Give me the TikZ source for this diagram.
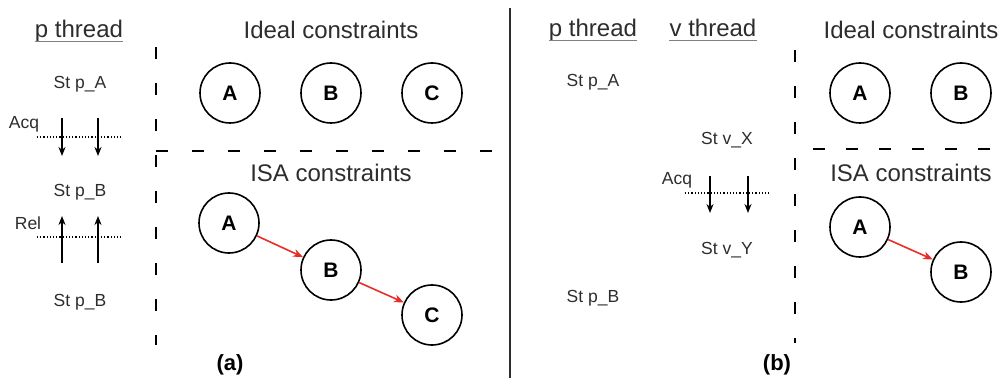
\documentclass[tikz,border=0pt]{standalone}
\usepackage{fontspec}
\setmainfont{Liberation Sans}
\usetikzlibrary{arrows.meta}
\definecolor{isared}{RGB}{230,45,40}
\definecolor{txtgray}{RGB}{45,45,45}
\begin{document}
\begin{tikzpicture}[x=1pt,y=-1pt,
  heading/.style={font=\fontsize{24}{27}\selectfont, text=txtgray, inner sep=0pt, anchor=base},
  uline/.style={line width=1pt, draw=gray},
  stlabel/.style={font=\fontsize{17.5}{20}\selectfont, text=txtgray, inner sep=0pt},
  circ/.style={circle, draw, line width=1.6pt, minimum size=60pt, inner sep=0pt, font=\fontsize{21}{24}\selectfont\bfseries},
  divider/.style={line width=2.6pt, dash pattern=on 12pt off 24pt},
  orderarrow/.style={line width=1.5pt, -{Stealth[length=9pt,width=7pt]}},
  isaarrow/.style={draw=isared, line width=1.6pt, -{Stealth[length=10pt,width=8pt]}},
  fence/.style={dotted, line width=1.2pt},
  subcap/.style={font=\fontsize{22}{24}\selectfont\bfseries, inner sep=0pt}
]
\useasboundingbox (0,0) rectangle (1005,385);

% ---------------- (a) ----------------
\node[heading] (pa) at (79,37.5) {p thread};
\draw[uline] ([yshift=-4pt]pa.base west) -- ([yshift=-4pt]pa.base east);

\node[stlabel] (a1) at (80,84) {St p\_A};
\node[stlabel] (acqa) at (24,124) {Acq};
\coordinate (fa1) at (37,137); \coordinate (fa2) at (123,137);
\draw[fence] (fa1) -- (fa2);
\coordinate (da1s) at (62,118); \coordinate (da1e) at (62,156);
\coordinate (da2s) at (98,118); \coordinate (da2e) at (98,156);
\draw[orderarrow] (da1s) -- (da1e);
\draw[orderarrow] (da2s) -- (da2e);
\node[stlabel] (a2) at (80,192) {St p\_B};
\node[stlabel] (rela) at (28,223) {Rel};
\coordinate (fb1) at (37,237); \coordinate (fb2) at (123,237);
\draw[fence] (fb1) -- (fb2);
\coordinate (ua1s) at (62,263); \coordinate (ua1e) at (62,216);
\coordinate (ua2s) at (98,263); \coordinate (ua2e) at (98,216);
\draw[orderarrow] (ua1s) -- (ua1e);
\draw[orderarrow] (ua2s) -- (ua2e);
\node[stlabel] (a3) at (80,302) {St p\_B};

\coordinate (va1) at (156,47); \coordinate (va2) at (156,345);
\draw[divider] (va1) -- (va2);
\coordinate (ha1) at (156,151); \coordinate (ha2) at (500,151);
\draw[divider] (ha1) -- (ha2);

\node[heading] (ideala) at (331,39) {Ideal constraints};
\node[circ] (iA) at (230,93) {A};
\node[circ] (iB) at (331,93) {B};
\node[circ] (iC) at (432,93) {C};

\node[heading] (isaa) at (331,182) {ISA constraints};
\node[circ] (sA) at (229,223) {A};
\node[circ] (sB) at (331,270) {B};
\node[circ] (sC) at (432,315) {C};
\draw[isaarrow] (sA) -- (sB);
\draw[isaarrow] (sB) -- (sC);

\node[subcap] (capa) at (230,365) {(a)};

% separator
\coordinate (s1) at (510,8); \coordinate (s2) at (510,378);
\draw[line width=1.5pt, draw=txtgray] (s1) -- (s2);

% ---------------- (b) ----------------
\node[heading] (pb) at (593,37) {p thread};
\draw[uline] ([yshift=-4pt]pb.base west) -- ([yshift=-4pt]pb.base east);
\node[heading] (vb) at (713,37) {v thread};
\draw[uline] ([yshift=-4pt]vb.base west) -- ([yshift=-4pt]vb.base east);

\node[stlabel] (b1) at (593,82) {St p\_A};
\node[stlabel] (b2) at (727,140) {St v\_X};
\node[stlabel] (acqb) at (677,180) {Acq};
\coordinate (fc1) at (685,193); \coordinate (fc2) at (770,193);
\draw[fence] (fc1) -- (fc2);
\coordinate (db1s) at (710,176); \coordinate (db1e) at (710,213);
\coordinate (db2s) at (748,176); \coordinate (db2e) at (748,213);
\draw[orderarrow] (db1s) -- (db1e);
\draw[orderarrow] (db2s) -- (db2e);
\node[stlabel] (b3) at (727,250) {St v\_Y};
\node[stlabel] (b4) at (593,298) {St p\_B};

\coordinate (vb1) at (795,50); \coordinate (vb2) at (795,343);
\draw[divider] (vb1) -- (vb2);
\coordinate (hb1) at (800,149); \coordinate (hb2) at (1005,149);
\draw[divider, dash pattern=on 12pt off 21pt, dash phase=-13pt] (hb1) -- (hb2);

\node[heading] (idealb) at (911,39) {Ideal constraints};
\node[circ] (jA) at (860,93) {A};
\node[circ] (jB) at (961,93) {B};

\node[heading] (isab) at (911,182) {ISA constraints};
\node[circ] (tA) at (860,227) {A};
\node[circ] (tB) at (961,272) {B};
\draw[isaarrow] (tA) -- (tB);

\node[subcap] (capb) at (777,365) {(b)};
\end{tikzpicture}
\end{document}
